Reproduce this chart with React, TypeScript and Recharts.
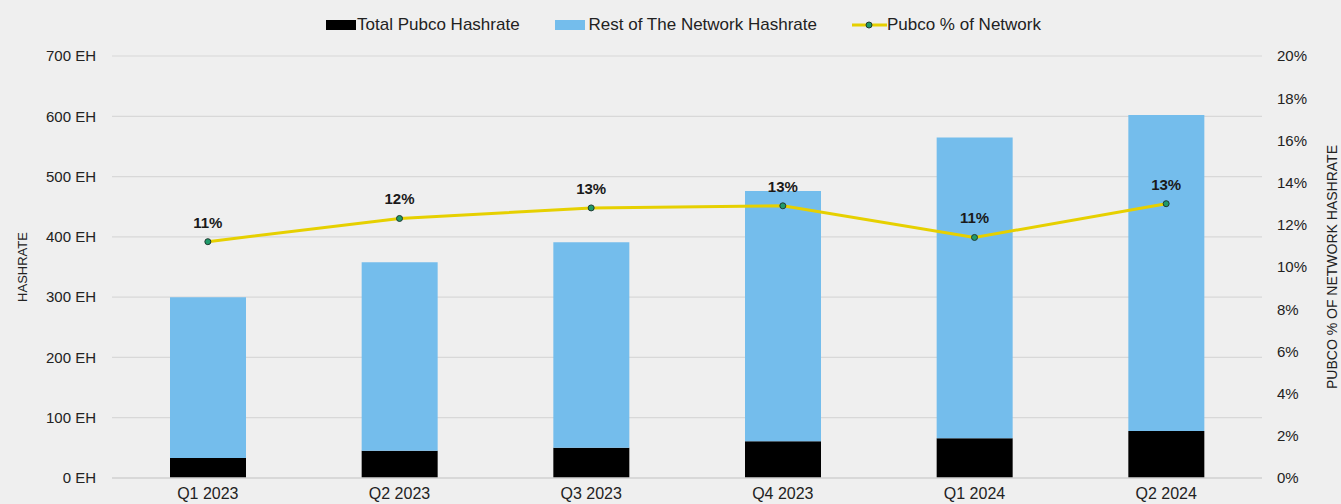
import {
  Bar,
  CartesianGrid,
  ComposedChart,
  LabelList,
  Legend,
  Line,
  XAxis,
  YAxis,
} from 'recharts';

const quarters = ['Q1 2023', 'Q2 2023', 'Q3 2023', 'Q4 2023', 'Q1 2024', 'Q2 2024'];
const pubcoHashrate = [33, 45, 50, 61, 66, 78];
const restHashrate = [267, 313, 341, 415, 499, 524];
const pubcoPct = [11.2, 12.3, 12.8, 12.9, 11.4, 13.0];
const leftTicks = [0, 100, 200, 300, 400, 500, 600, 700];
const rightTicks = [0, 2, 4, 6, 8, 10, 12, 14, 16, 18, 20];

const BG = '#efefef';
const BLUE = '#74bdec';
const YELLOW = '#e6d000';
const FONT = '"Liberation Sans", Arial, sans-serif';

const data = quarters.map((q, i) => ({
  q,
  pubco: pubcoHashrate[i],
  rest: restHashrate[i],
  pct: pubcoPct[i],
}));

function LegendBox() {
  const item = { display: 'flex', alignItems: 'center', marginRight: 35 } as const;
  return (
    <div
      style={{
        height: 52,
        display: 'flex',
        justifyContent: 'center',
        alignItems: 'flex-start',
        paddingTop: 11,
        boxSizing: 'border-box',
        fontFamily: FONT,
        fontSize: 17,
        color: '#222',
        paddingLeft: 26,
      }}
    >
      <div style={item}>
        <span style={{ width: 30, height: 10, background: '#000', marginRight: 1 }} />
        Total Pubco Hashrate
      </div>
      <div style={item}>
        <span style={{ width: 30, height: 10, background: BLUE, marginRight: 4 }} />
        Rest of The Network Hashrate
      </div>
      <div style={{ ...item, marginRight: 0 }}>
        <svg width={35} height={12}>
          <line x1={0} y1={6} x2={35} y2={6} stroke={YELLOW} strokeWidth={3} />
          <circle cx={17} cy={6} r={3} fill="#1f9a6a" stroke="#203a30" strokeWidth={1} />
        </svg>
        Pubco % of Network
      </div>
    </div>
  );
}

export default function App() {
  return (
    <div style={{ width: 1341, height: 504, background: BG }}>
      <style>{'body{margin:0;background:#efefef}'}</style>
      <ComposedChart
        width={1341}
        height={504}
        data={data}
        margin={{ top: 4, right: 0, bottom: 0, left: 0 }}
      >
        <Legend verticalAlign="top" content={() => <LegendBox />} />
        <CartesianGrid yAxisId="left" vertical={false} stroke="#d8d8d8" strokeWidth={1.2} />
        <XAxis
          dataKey="q"
          height={26}
          tickLine={false}
          axisLine={{ stroke: '#d4d4d4', strokeWidth: 1.5 }}
          tick={{ fill: '#222', fontSize: 16, fontFamily: FONT }}
          tickSize={6}
          tickMargin={4}
        />
        <YAxis
          yAxisId="left"
          width={112}
          domain={[0, 700]}
          ticks={leftTicks}
          tickFormatter={(v: number) => `${v} EH`}
          tickLine={false}
          axisLine={false}
          tickSize={6}
          tickMargin={10}
          tick={{ fill: '#222', fontSize: 15, fontFamily: FONT }}
          label={{
            content: (p: any) => {
              const vb = p.viewBox;
              const cy = vb.y + vb.height / 2;
              return (
                <text
                  x={22}
                  y={cy}
                  transform={`rotate(-90 22 ${cy})`}
                  textAnchor="middle"
                  dominantBaseline="central"
                  fill="#222"
                  fontSize={13}
                  fontFamily={FONT}
                >
                  HASHRATE
                </text>
              );
            },
          }}
        />
        <YAxis
          yAxisId="right"
          orientation="right"
          width={79}
          domain={[0, 20]}
          ticks={rightTicks}
          tickFormatter={(v: number) => `${v}%`}
          tickLine={false}
          axisLine={false}
          tickSize={6}
          tickMargin={9}
          tick={{ fill: '#222', fontSize: 15, fontFamily: FONT }}
          label={{
            content: (p: any) => {
              const vb = p.viewBox;
              const cy = vb.y + vb.height / 2;
              return (
                <text
                  x={1332}
                  y={cy}
                  transform={`rotate(-90 1332 ${cy})`}
                  textAnchor="middle"
                  dominantBaseline="central"
                  fill="#222"
                  fontSize={14}
                  fontFamily={FONT}
                >
                  PUBCO % OF NETWORK HASHRATE
                </text>
              );
            },
          }}
        />
        <Bar yAxisId="left" dataKey="pubco" stackId="a" fill="#000" barSize={76} isAnimationActive={false} />
        <Bar yAxisId="left" dataKey="rest" stackId="a" fill={BLUE} barSize={76} isAnimationActive={false} />
        <Line
          yAxisId="right"
          dataKey="pct"
          stroke={YELLOW}
          strokeWidth={3}
          dot={{ r: 3, fill: '#1f9a6a', stroke: '#203a30', strokeWidth: 1 }}
          activeDot={false}
          isAnimationActive={false}
        >
          <LabelList
            dataKey="pct"
            position="top"
            offset={14}
            formatter={(v: any) => `${Math.round(Number(v))}%`}
            fill="#1a1a1a"
            fontSize={15}
            fontWeight="bold"
            fontFamily={FONT}
          />
        </Line>
      </ComposedChart>
    </div>
  );
}
